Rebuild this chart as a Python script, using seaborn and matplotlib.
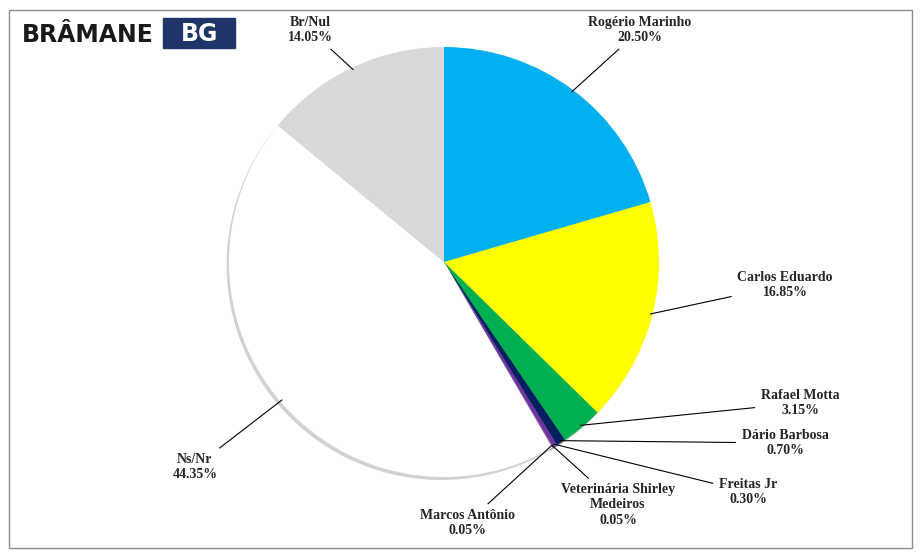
import numpy as np
import matplotlib
matplotlib.use("Agg")
import matplotlib.pyplot as plt
import seaborn as sns
from matplotlib.patches import Rectangle

sns.set_style("white")
plt.rcParams['font.family'] = ['Liberation Serif', 'DejaVu Serif']

# ---------- Data ----------
names = ["Rogério Marinho", "Carlos Eduardo", "Rafael Motta", "Dário Barbosa",
         "Freitas Jr", "Veterinária Shirley\nMedeiros", "Marcos Antônio",
         "Ns/Nr", "Br/Nul"]
values = [20.50, 16.85, 3.15, 0.70, 0.30, 0.05, 0.05, 44.35, 14.05]
colors = ["#00B0F0", "#FFFF00", "#00B050", "#002060", "#7030A0",
          "#5B3A8C", "#A05AC8", "#FFFFFF", "#D9D9D9"]
# label positions in pixels (center of text)
label_px = [(640, 30), (785, 285), (800, 403), (785, 443), (748, 492),
            (618, 505), (467, 523), (195, 467), (310, 30)]

W, H = 922, 560
cx, cy, R = 444, 262, 215

fig = plt.figure(figsize=(W / 100, H / 100), dpi=100)
fig.patches.append(Rectangle((9 / W, 12 / H), 903 / W, 538 / H, transform=fig.transFigure,
                             fill=False, edgecolor="#8c8c8c", linewidth=1))

ax = fig.add_axes([(cx - R) / W, (H - cy - R) / H, 2 * R / W, 2 * R / H])
wedges, _ = ax.pie(values, colors=colors, startangle=90, counterclock=False,
                   radius=1, wedgeprops=dict(linewidth=0),
                   shadow={'ox': -0.008, 'oy': -0.01, 'shade': 0.35})
ax.set_xlim(-1, 1)
ax.set_ylim(-1, 1)
ax.set_aspect("equal")
ax.axis("off")

# ---------- Labels with leader lines ----------
for w, name, val, (px, py) in zip(wedges, names, values, label_px):
    ang = np.deg2rad((w.theta1 + w.theta2) / 2)
    xy = (0.99 * np.cos(ang), 0.99 * np.sin(ang))
    xt = ((px - cx) / R, (cy - py) / R)
    ax.annotate(f"{name}\n{val:.2f}%", xy=xy, xytext=xt, ha="center", va="center",
                fontsize=10, fontweight="bold", annotation_clip=False,
                arrowprops=dict(arrowstyle="-", color="black", lw=0.8,
                                shrinkA=2, shrinkB=0))

# ---------- Logo ----------
fig.text(22 / W, 1 - 35 / H, "BRÂMANE", fontsize=17, fontweight="heavy",
         family="DejaVu Sans", color="#1a1a1a", va="center")
fig.patches.append(Rectangle((163 / W, 1 - 48 / H), 72 / W, 30 / H,
                             transform=fig.transFigure, color="#1F3468"))
fig.text(200 / W, 1 - 34 / H, "BG", fontsize=17, fontweight="bold",
         family="DejaVu Sans", color="white", ha="center", va="center")

fig.savefig("out.png", dpi=100)
